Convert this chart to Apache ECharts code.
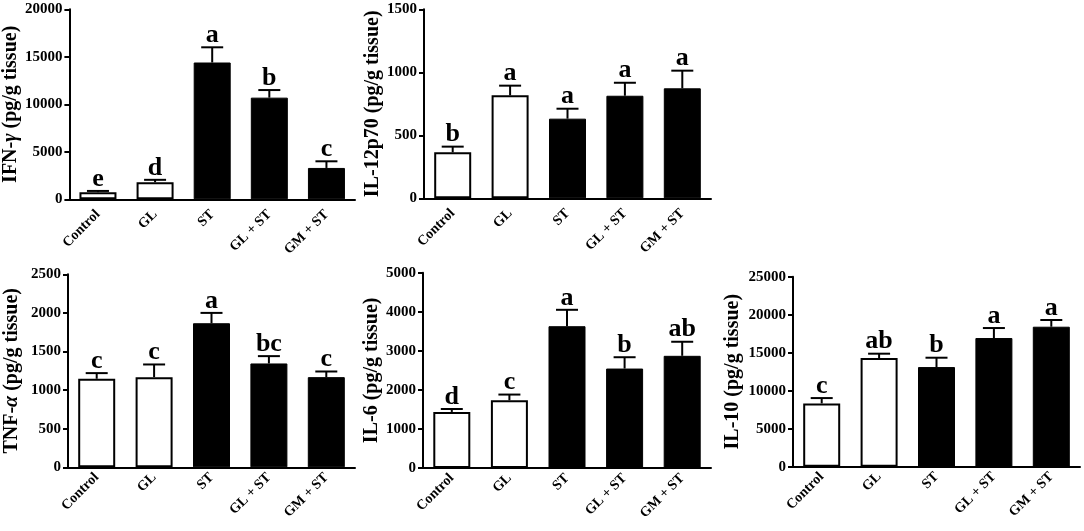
<!DOCTYPE html>
<html>
<head>
<meta charset="utf-8">
<script src="https://cdn.jsdelivr.net/npm/echarts@6/dist/echarts.min.js"></script>
<style>
html,body{margin:0;padding:0;background:#fff;}
#chart{width:1084px;height:531px;}
</style>
</head>
<body>
<div id="chart"></div>
<script>
// ---- data ----
const categories = ['Control', 'GL', 'ST', 'GL + ST', 'GM + ST'];

const ifnValues   = [750, 1800, 14400, 10700, 3300];
const ifnErrors   = [130, 250, 1600, 800, 700];
const ifnLetters  = ['e', 'd', 'a', 'b', 'c'];

const il12Values  = [365, 817, 632, 814, 873];
const il12Errors  = [45, 77, 79, 103, 140];
const il12Letters = ['b', 'a', 'a', 'a', 'a'];

const tnfValues   = [1147, 1168, 1866, 1345, 1168];
const tnfErrors   = [73, 164, 134, 95, 73];
const tnfLetters  = ['c', 'c', 'a', 'bc', 'c'];

const il6Values   = [1435, 1735, 3630, 2546, 2872];
const il6Errors   = [75, 145, 420, 290, 360];
const il6Letters  = ['d', 'c', 'a', 'b', 'ab'];

const il10Values  = [8330, 14300, 13110, 16930, 18420];
const il10Errors  = [700, 570, 1230, 1315, 880];
const il10Letters = ['c', 'ab', 'b', 'a', 'a'];

// ---- styling / layout ----
const FONT = '"Liberation Serif", "Times New Roman", serif';
const whiteGroups = [true, true, false, false, false];

const panels = [
  {grid:{left:68, top:9.3, width:287, height:190}, max:20000, interval:5000, labelMargin:13,
   name:'{t|IFN-}{i|γ}{t| (pg/g tissue)}', gap:46, values:ifnValues, errors:ifnErrors, letters:ifnLetters},
  {grid:{left:424, top:9.3, width:287, height:189}, max:1500, interval:500, labelMargin:13,
   name:'{t|IL-12p70 (pg/g tissue)}', gap:41, values:il12Values, errors:il12Errors, letters:il12Letters},
  {grid:{left:68, top:274.3, width:287, height:193}, max:2500, interval:500, labelMargin:8,
   name:'{t|TNF-}{i|α}{t| (pg/g tissue)}', gap:46, values:tnfValues, errors:tnfErrors, letters:tnfLetters},
  {grid:{left:423, top:272.7, width:288, height:195.3}, max:5000, interval:1000, labelMargin:8,
   name:'{t|IL-6 (pg/g tissue)}', gap:41, values:il6Values, errors:il6Errors, letters:il6Letters},
  {grid:{left:793, top:276.7, width:287, height:190}, max:25000, interval:5000, labelMargin:8,
   name:'{t|IL-10 (pg/g tissue)}', gap:50, values:il10Values, errors:il10Errors, letters:il10Letters}
];

const grids = [], xAxes = [], yAxes = [], series = [];
panels.forEach((p, k) => {
  grids.push(p.grid);
  xAxes.push({
    type:'category', gridIndex:k, data:categories,
    axisLine:{lineStyle:{color:'#000', width:2}},
    axisTick:{alignWithLabel:true, length:5, lineStyle:{color:'#000', width:2}},
    axisLabel:{rotate:45, margin:p.labelMargin, color:'#000', fontSize:14, fontWeight:'bold', fontFamily:FONT, interval:0}
  });
  yAxes.push({
    type:'value', gridIndex:k, min:0, max:p.max, interval:p.interval,
    splitLine:{show:false},
    axisLine:{show:true, lineStyle:{color:'#000', width:2}},
    axisTick:{show:true, length:5, lineStyle:{color:'#000', width:2}},
    axisLabel:{margin:7, color:'#000', fontSize:15, fontWeight:'bold', fontFamily:FONT, formatter:v => String(v)},
    name:p.name, nameLocation:'middle', nameGap:p.gap, nameRotate:90,
    nameTextStyle:{rich:{
      t:{fontSize:20, fontWeight:'bold', fontFamily:FONT, color:'#000'},
      i:{fontSize:20, fontWeight:'bold', fontStyle:'italic', fontFamily:FONT, color:'#000'}
    }}
  });
  series.push({
    type:'bar', xAxisIndex:k, yAxisIndex:k, barWidth:37, z:2,
    data:p.values.map((v, i) => ({
      value:v,
      itemStyle: whiteGroups[i]
        ? {color:'#fff', borderColor:'#000', borderWidth:2}
        : {color:'#000', borderColor:'#000', borderWidth:1}
    }))
  });
  series.push({
    type:'custom', xAxisIndex:k, yAxisIndex:k, z:3,
    data:p.values.map((v, i) => [i, v, p.errors[i]]),
    renderItem:(params, api) => {
      const i = api.value(0), v = api.value(1), e = api.value(2);
      const base = api.coord([i, v]);
      const top = api.coord([i, v + e]);
      const letter = p.letters[params.dataIndex];
      return {type:'group', children:[
        {type:'line', shape:{x1:base[0], y1:base[1], x2:top[0], y2:top[1]}, style:{stroke:'#000', lineWidth:2}},
        {type:'line', shape:{x1:top[0]-11, y1:top[1], x2:top[0]+11, y2:top[1]}, style:{stroke:'#000', lineWidth:2}},
        {type:'text', style:{text:letter, x:top[0], y:top[1]+1, align:'center', verticalAlign:'bottom',
          textAlign:'center', textVerticalAlign:'bottom',
          fontSize:26, fontWeight:'bold', fontFamily:FONT, fill:'#000'}}
      ]};
    }
  });
});

const chart = echarts.init(document.getElementById('chart'), null, {renderer:'canvas'});
chart.setOption({
  backgroundColor:'#fff',
  animation:false,
  grid:grids, xAxis:xAxes, yAxis:yAxes, series:series
});
</script>
</body>
</html>
